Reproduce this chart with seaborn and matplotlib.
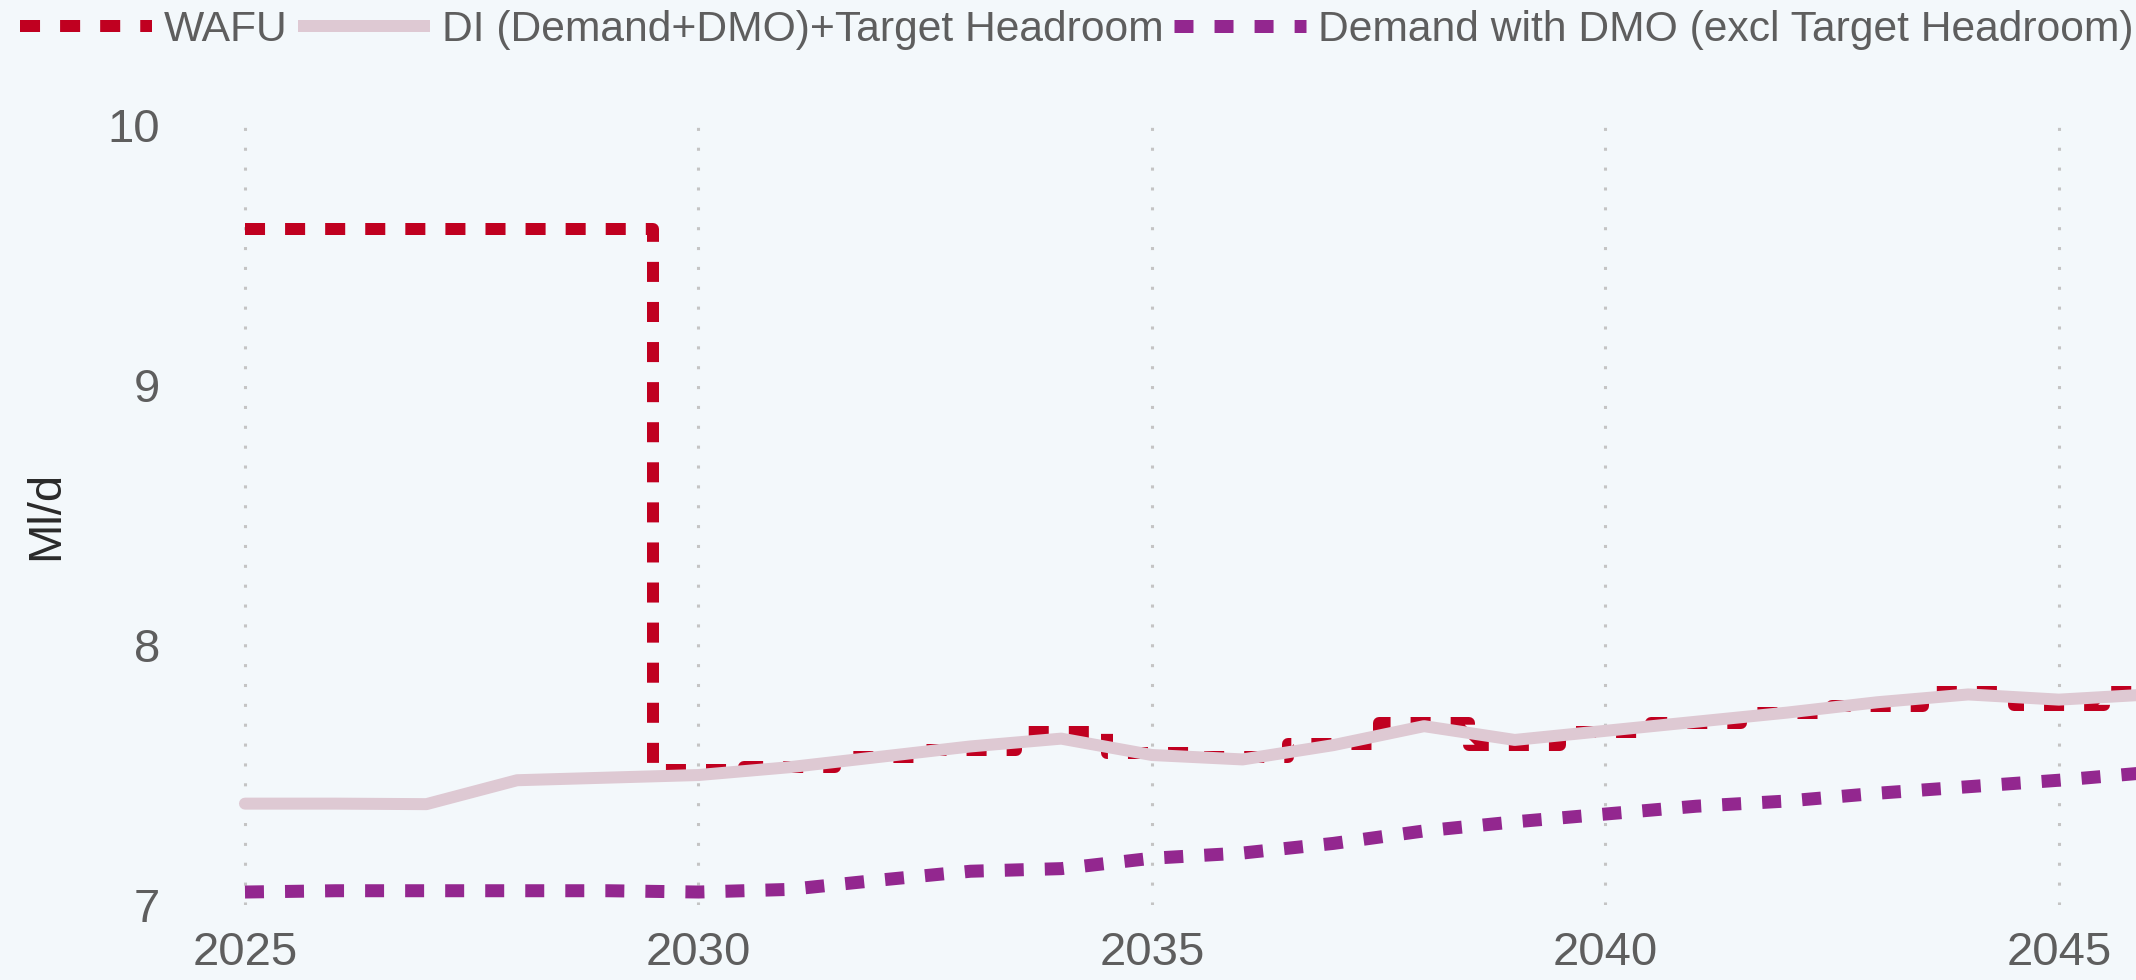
import matplotlib
matplotlib.use("Agg")
import pandas as pd
import matplotlib.pyplot as plt
from matplotlib.lines import Line2D
import seaborn as sns

# Datos
years = list(range(2025, 2047))
wafu = [9.6, 9.6, 9.6, 9.6, 9.6, 7.52, 7.53, 7.57, 7.595, 7.665, 7.585,
        7.57, 7.62, 7.70, 7.615, 7.665, 7.70, 7.74, 7.765, 7.82, 7.77, 7.82]
di = [7.39, 7.39, 7.388, 7.48, 7.49, 7.50, 7.53, 7.57, 7.61, 7.64, 7.577,
      7.56, 7.615, 7.688, 7.635, 7.67, 7.705, 7.74, 7.78, 7.81, 7.79, 7.81]
demand = [7.05, 7.055, 7.055, 7.055, 7.055, 7.05, 7.06, 7.096, 7.13, 7.14, 7.18,
          7.20, 7.237, 7.285, 7.32, 7.35, 7.38, 7.40, 7.43, 7.455, 7.48, 7.51]
labels = ["WAFU", "DI (Demand+DMO)+Target Headroom",
          "Demand with DMO (excl Target Headroom)"]
x_ticks = [2025, 2030, 2035, 2040, 2045]
y_ticks = [7, 8, 9, 10]

df = pd.DataFrame({"year": years, "wafu": wafu, "di": di, "demand": demand})

sns.set_theme(style="white")
plt.rcParams["font.family"] = ["Liberation Sans", "DejaVu Sans"]

bg = "#F3F8FB"
red, pink, purple = "#C00020", "#DEC9D3", "#93278F"
fig = plt.figure(figsize=(21.36, 9.8), dpi=100, facecolor=bg)
ax = fig.add_axes([0.082, 0.0765, 0.918, 0.7959])
ax.set_facecolor(bg)

px = 0.72  # puntos por pixel a 100 dpi
red_ls = (0, (1.67, 1.67))
purple_ls = (0, (1.46, 1.62))

sns.lineplot(data=df, x="year", y="wafu", ax=ax, color=red,
             linewidth=12 * px, linestyle=red_ls,
             drawstyle="steps-mid", dash_capstyle="butt")
sns.lineplot(data=df, x="year", y="di", ax=ax, color=pink,
             linewidth=12 * px, solid_capstyle="round", solid_joinstyle="round")
sns.lineplot(data=df, x="year", y="demand", ax=ax, color=purple,
             linewidth=13 * px, linestyle=purple_ls, dash_capstyle="butt")

ax.set_xlim(2024.23, 2045.85)
ax.set_ylim(7, 10)
ax.set_xticks(x_ticks)
ax.set_yticks(y_ticks)
ax.set_xticklabels([str(t) for t in x_ticks])
ax.set_yticklabels([str(t) for t in y_ticks])
ax.tick_params(axis="both", length=0, labelsize=34, colors="#5E5E5E")
ax.tick_params(axis="x", pad=19)
ax.tick_params(axis="y", pad=11)

ax.grid(axis="x", color="#C4C4C4", linewidth=2.2, linestyle=(0, (1, 5.5)))
ax.grid(axis="y", visible=False)
for s in ax.spines.values():
    s.set_visible(False)

ax.set_xlabel("")
ax.set_ylabel("Ml/d", fontsize=34, color="#2A2A2A")
ax.yaxis.set_label_coords(-0.0546, 0.5)

# leyenda con manejadores propios
handles = [
    Line2D([], [], color=red, linewidth=12 * px, linestyle=red_ls,
           dash_capstyle="butt"),
    Line2D([], [], color=pink, linewidth=12 * px, solid_capstyle="butt"),
    Line2D([], [], color=purple, linewidth=13 * px, linestyle=purple_ls,
           dash_capstyle="butt"),
]
leg = fig.legend(handles, labels, loc="center left",
                 bbox_to_anchor=(20 / 2136, 1 - 30 / 980),
                 bbox_transform=fig.transFigure, ncol=3, frameon=False,
                 fontsize=30.7, handlelength=3.1, handletextpad=0.28,
                 columnspacing=0.24, borderpad=0, borderaxespad=0)
for t in leg.get_texts():
    t.set_color("#5E5E5E")

fig.savefig("out.png", dpi=100, facecolor=bg)
